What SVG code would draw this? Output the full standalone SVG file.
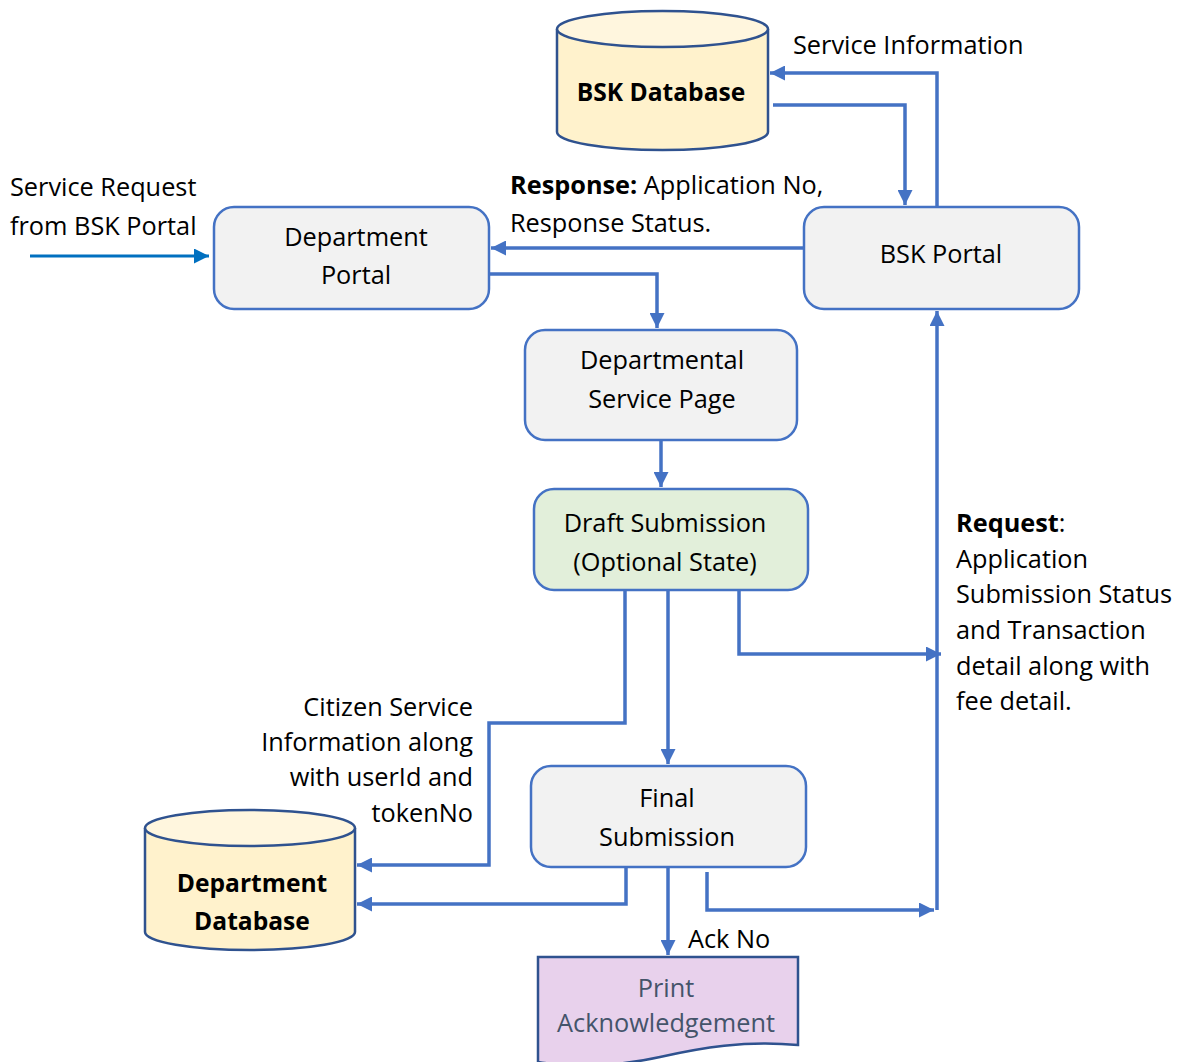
<svg xmlns="http://www.w3.org/2000/svg" width="1178" height="1062" viewBox="0 0 1178 1062">
<defs>
<marker id="ah" markerUnits="userSpaceOnUse" markerWidth="17" markerHeight="15" refX="15" refY="7.5" orient="auto">
<path d="M0,0 L15,7.5 L0,15 Z" fill="#4472C4"/>
</marker>
<marker id="ah2" markerUnits="userSpaceOnUse" markerWidth="17" markerHeight="15" refX="15" refY="7.5" orient="auto">
<path d="M0,0 L15,7.5 L0,15 Z" fill="#0070C0"/>
</marker>
<style>
text{font-family:"Open Sans","Noto Sans","DejaVu Sans",sans-serif;font-size:25.3px;fill:#000}
.c{text-anchor:middle}
.r{text-anchor:end}
.b{font-weight:bold}
.bb{font-weight:bold;font-size:24.6px}
.box{fill:#F2F2F2;stroke:#4472C4;stroke-width:2.5}
.db{fill:#FFF2CC;stroke:#2F528F;stroke-width:2.5}
.dbt{fill:#FFF6DE;stroke:#2F528F;stroke-width:2.5}
.ln{fill:none;stroke:#4472C4;stroke-width:3.5}
.arr{marker-end:url(#ah)}
</style>
</defs>
<rect width="1178" height="1062" fill="#fff"/>

<g id="bsk-database">
<path class="db" d="M557,29 V132 A105.5,18 0 0 0 768,132 V29"/>
<ellipse class="dbt" cx="662.5" cy="29" rx="105.5" ry="18"/>
<text class="c bb" x="661" y="101">BSK Database</text>
</g>

<g id="bsk-portal">
<rect class="box" x="804" y="207" width="275" height="102" rx="20"/>
<text class="c" x="941" y="263">BSK Portal</text>
</g>

<g id="department-portal">
<rect class="box" x="214" y="207" width="275" height="102" rx="20"/>
<text class="c" x="356" y="246">Department</text>
<text class="c" x="356" y="284">Portal</text>
</g>

<g id="departmental-service-page">
<rect class="box" x="525" y="330" width="272" height="110" rx="20"/>
<text class="c" x="662" y="369">Departmental</text>
<text class="c" x="662" y="408">Service Page</text>
</g>

<g id="draft-submission">
<rect class="box" x="534" y="489" width="274" height="101" rx="20" style="fill:#E2EFDA"/>
<text class="c" x="665" y="532">Draft Submission</text>
<text class="c" x="665" y="571">(Optional State)</text>
</g>

<g id="final-submission">
<rect class="box" x="531" y="766" width="275" height="101" rx="20"/>
<text class="c" x="667" y="807">Final</text>
<text class="c" x="667" y="846">Submission</text>
</g>

<g id="department-database">
<path class="db" d="M145,828 V932 A105,18 0 0 0 355,932 V828"/>
<ellipse class="dbt" cx="250" cy="828" rx="105" ry="18"/>
<text class="c bb" x="252" y="892">Department</text>
<text class="c bb" x="252" y="930">Database</text>
</g>

<g id="print-acknowledgement">
<path d="M538,957 H798 V1045 C745,1040 700,1048 660,1057 C620,1066 575,1068 538,1062 Z" fill="#E8D1EC" stroke="#2F528F" stroke-width="2.5"/>
<text class="c" x="666" y="997" style="fill:#44546A">Print</text>
<text class="c" x="666" y="1032" style="fill:#44546A">Acknowledgement</text>
</g>

<g id="connectors">
<path class="ln arr" d="M937,207 V73 H770"/>
<path class="ln arr" d="M773,105 H905 V205"/>
<path class="ln arr" d="M804,248 H491"/>
<path class="ln arr" d="M489,274 H657 V328"/>
<path class="ln arr" d="M661,440 V487"/>
<path class="ln arr" d="M625,590 V723 H489 V865 H357"/>
<path class="ln arr" d="M668,590 V764"/>
<path class="ln arr" d="M739,590 V654 H941"/>
<path class="ln arr" d="M937,910 V311"/>
<path class="ln arr" d="M626,867 V904 H357"/>
<path class="ln arr" d="M668,867 V955"/>
<path class="ln arr" d="M707,872 V910 H934"/>
<path d="M30,256 H209" fill="none" stroke="#0070C0" stroke-width="3" marker-end="url(#ah2)"/>
</g>

<g id="labels">
<text x="793" y="54">Service Information</text>
<text x="10" y="196">Service Request</text>
<text x="10" y="235">from BSK Portal</text>
<text x="510" y="194"><tspan class="b">Response:</tspan> Application No,</text>
<text x="510" y="232">Response Status.</text>
<text x="956" y="532"><tspan class="b">Request</tspan>:</text>
<text x="956" y="568">Application</text>
<text x="956" y="603">Submission Status</text>
<text x="956" y="639">and Transaction</text>
<text x="956" y="675">detail along with</text>
<text x="956" y="710">fee detail.</text>
<text class="r" x="473" y="716">Citizen Service</text>
<text class="r" x="473" y="751">Information along</text>
<text class="r" x="473" y="786">with userId and</text>
<text class="r" x="473" y="822">tokenNo</text>
<text x="688" y="948">Ack No</text>
</g>
</svg>
